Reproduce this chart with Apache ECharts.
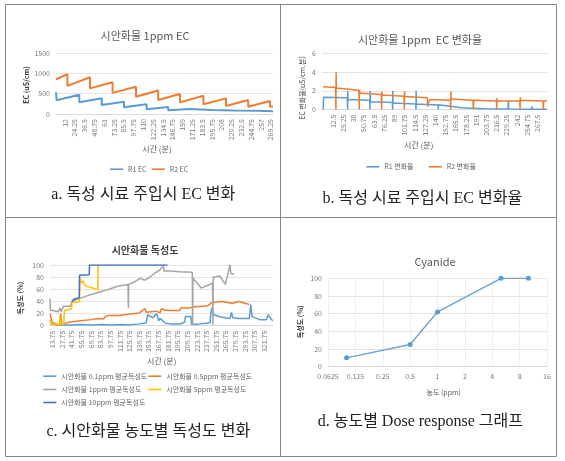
<!DOCTYPE html>
<html><head><meta charset="utf-8">
<script src="https://cdn.jsdelivr.net/npm/echarts@6/dist/echarts.min.js"></script>
<style>html,body{margin:0;padding:0;background:#fff}#c{width:565px;height:461px}</style>
</head><body><div id="c"></div>
<script>
const FONT = "'Noto Sans CJK KR', 'Noto Sans', sans-serif";
const SERIF = "'Liberation Serif', 'DejaVu Serif', 'Noto Sans CJK KR', serif";

// ---- Panel a: 시안화물 1ppm EC ----
const aTicks = [12, 24.25, 36.5, 48.75, 61, 73.25, 85.5, 97.75, 110, 122.25, 134.5, 146.75, 159, 171.25, 183.5, 195.75, 208, 220.25, 232.5, 244.75, 257, 269.25];
const aR1Time = [0.75, 1.5, 29.9, 29.9, 57.9, 57.9, 85.75, 85.75, 114, 114, 141, 141, 168.25, 168.25, 196, 196, 224, 224, 252, 252, 272];
const aR1EC   = [535, 340, 475, 287, 385, 221, 301, 164, 238, 115, 172, 91, 123, 74, 100, 68, 88, 62, 80, 58, 70];
const aR2Time = [0.75, 15, 15, 43.25, 43.25, 71.5, 71.5, 100.75, 100.75, 128.5, 128.5, 155.75, 155.75, 185, 185, 213.25, 213.25, 241, 241, 268.25, 268.25, 272];
const aR2EC   = [855, 978, 690, 905, 630, 780, 520, 670, 425, 580, 345, 490, 285, 450, 240, 385, 195, 345, 180, 320, 180, 185];

// ---- Panel b: 시안화물 1ppm EC 변화율 ----
const bTicks = [12.5, 25.25, 38, 50.75, 63.5, 76.25, 89, 101.75, 114.5, 127.25, 140, 152.75, 165.5, 178.25, 191, 203.75, 216.5, 229.25, 242, 254.75, 267.5];
const bR1Time = [0, 0.5, 30.1, 30.5, 30.7, 31, 58, 58.4, 58.6, 58.9, 86.4, 86.75, 86.95, 87.2, 115.5, 115.9, 116.1, 116.4, 143.4, 143.75, 144, 144.3, 172.7, 173, 173.3, 201.7, 202, 202.3, 230.8, 231.1, 231.3, 231.6, 260.2, 260.5, 260.7, 261, 279.5];
const bR1Rate = [0, 1.3, 1.25, 0, 2.0, 1.06, 0.98, 0, 2.0, 0.82, 0.75, 0, 2.0, 0.7, 0.6, 0, 2.0, 0.6, 0.48, 0, 0.5, 0.35, 0.2, 0, 0.15, 0.08, 0, 0.08, 0.05, 0, 0.95, 0.05, 0.03, 0, 0.35, 0.03, 0.02];
const bR2Time = [0, 15.5, 15.9, 16.1, 16.4, 44.6, 45, 45.3, 45.6, 72.6, 73, 73.3, 73.6, 100.9, 101.3, 101.6, 101.9, 130, 130.5, 131.5, 133, 158.8, 159.2, 159.5, 159.8, 187.1, 187.5, 187.8, 188.1, 216.3, 216.7, 217, 217.3, 245.5, 245.9, 246.2, 246.5, 274.6, 275, 275.5, 279.5];
const bR2Rate = [2.45, 2.35, 0, 4.0, 2.3, 2.05, 0, 2.1, 1.78, 1.62, 0, 1.9, 1.55, 1.42, 0, 1.95, 1.4, 1.25, 0.3, 0.8, 1.06, 1.0, 0, 1.95, 1.12, 1.0, 0, 0.5, 0.98, 0.92, 0, 1.2, 0.95, 0.92, 0, 1.3, 0.98, 0.92, 0, 0.9, 0.95];

// ---- Panel c: 시안화물 독성도 ----
const cTicks = [13.75, 27.75, 41.75, 55.75, 69.75, 83.75, 97.75, 111.75, 125.75, 139.75, 153.75, 167.75, 181.75, 195.75, 209.75, 223.75, 237.75, 251.75, 265.75, 279.75, 293.75, 307.75, 321.75];
const c01Time = [10, 12, 20, 24.5, 25, 26, 40, 55, 70, 85, 100, 115, 124, 125, 140, 150, 152, 153, 160, 165, 168, 170, 178, 185, 200, 206, 207, 215, 216, 228, 243, 244, 246, 248, 260, 272, 274, 276, 285, 300, 302, 304, 315, 325, 327, 334];
const c01Tox  = [3, 1, 1, 1, 8, 1, 1, 2, 1, 2, 1, 2, 1, 4, 3, 5, 18, 15, 13, 20, 8, 12, 4, 3, 3, 6, 15, 15, 2, 3, 5, 22, 30, 18, 14, 12, 22, 13, 12, 12, 35, 15, 10, 10, 18, 8];
const c05Time = [10, 13, 20, 24.5, 25.5, 27, 40, 55, 70, 80, 88, 90, 95, 110, 124, 125, 140, 148, 150, 165, 170, 172, 180, 199, 200, 213, 218, 220, 240, 245, 260, 275, 285, 300];
const c05Tox  = [20, 6, 2, 2, 20, 3, 6, 8, 10, 12, 11, 15, 17, 17, 19, 22, 21, 28, 22, 24, 21, 28, 25, 25, 29, 29, 31, 34, 33, 38, 40, 37, 40, 35];
const c1Time  = [10, 10.5, 22, 24.5, 26.5, 29.5, 40, 41.5, 53.5, 66, 75.5, 83, 92.5, 98, 108, 123.5, 124, 124.5, 133, 141, 148, 155, 162, 170, 175, 176, 185, 199, 217, 217.5, 218, 230, 246.5, 247, 247.5, 257, 265, 272, 273, 278];
const c1Tox   = [45, 26, 23, 29, 23, 32, 32, 40, 45, 50, 53, 56, 59, 61, 65, 68, 29, 68, 72, 78, 75, 80, 86, 92, 98, 90, 90, 89, 88, 1, 78, 62, 70, 1, 80, 82, 68, 100, 86, 85];
const c5Time  = [10, 12, 24, 24.5, 25.5, 30, 31, 41.5, 42, 53, 53.5, 56, 58, 61, 66, 72, 79.5, 80];
const c5Tox   = [10, 2, 2, 15, 3, 3, 25, 28, 38, 40, 78, 70, 74, 66, 64, 62, 59, 100];
const c10Time = [42, 45, 52.5, 53, 67, 67.5, 181];
const c10Tox  = [40, 44, 46, 83, 84, 100, 100];

// ---- Panel d: Cyanide dose response ----
const dConc = [0.1, 0.5, 1, 5, 10];
const dTox  = [10, 25, 62, 100, 100];

const zip = (a, b) => a.map((v, i) => [v, b[i]]);
const LBL = '#7a7a7a';
const GRID = '#e3e3e3';

function xTime(gi, min, max, ticks) {
  return {
    type: 'value', gridIndex: gi, min: min, max: max,
    axisLine: { show: true, lineStyle: { color: '#d9d9d9', width: 1 } },
    axisTick: { show: false }, splitLine: { show: false },
    axisLabel: { customValues: ticks, rotate: 90, fontSize: 7, color: LBL, margin: 5, fontFamily: FONT, formatter: v => String(v) }
  };
}
function yVal(gi, min, max, interval) {
  return {
    type: 'value', gridIndex: gi, min: min, max: max, interval: interval,
    axisLine: { show: false }, axisTick: { show: false },
    splitLine: { show: true, lineStyle: { color: GRID, width: 1 } },
    axisLabel: { fontSize: 7, color: LBL, margin: 6, fontFamily: FONT, formatter: v => String(v) }
  };
}
function line(name, xi, data, color, width) {
  return { name: name, type: 'line', xAxisIndex: xi, yAxisIndex: xi, data: data, showSymbol: false,
    lineStyle: { color: color, width: width }, itemStyle: { color: color }, animation: false };
}
function txt(text, x, y, size, color, opts) {
  opts = opts || {};
  return { type: 'text', x: x, y: y, rotation: opts.rot || 0, silent: true,
    style: { text: text, fill: color, font: (opts.bold ? 'bold ' : '') + size + 'px ' + (opts.family || FONT),
      align: 'center', verticalAlign: 'middle', textAlign: 'center', textVerticalAlign: 'middle' } };
}
function leg(name, left, y) {
  return { data: [name], left: left, top: y - 5, padding: 0, icon: 'rect', itemWidth: 13, itemHeight: 1.6,
    itemGap: 4, textStyle: { fontSize: 7, color: '#666', fontFamily: FONT }, selectedMode: false };
}
function hl(x1, y1, x2, y2) {
  return { type: 'line', silent: true, shape: { x1: x1, y1: y1, x2: x2, y2: y2 }, style: { stroke: '#858585', lineWidth: 1 } };
}

const C_BLUE = '#5B9BD5', C_ORANGE = '#ED7D31', C_GRAY = '#A5A5A5', C_YEL = '#FFC000', C_NAVY = '#4472C4';

const option = {
  backgroundColor: '#fff',
  animation: false,
  grid: [
    { left: 56, top: 53, width: 217, height: 61 },
    { left: 322, top: 53.5, width: 225, height: 56 },
    { left: 50, top: 265, width: 222.7, height: 60.7 },
    { left: 328, top: 278.3, width: 219, height: 88.4 }
  ],
  xAxis: [
    xTime(0, 0.75, 272, aTicks),
    xTime(1, -1.5, 279.5, bTicks),
    xTime(2, 10, 334, cTicks),
    { type: 'log', logBase: 2, gridIndex: 3, min: 0.0625, max: 16,
      axisLine: { show: true, lineStyle: { color: '#d9d9d9' } }, axisTick: { show: false },
      splitLine: { show: true, lineStyle: { color: '#eeeeee' } },
      axisLabel: { fontSize: 7, color: LBL, margin: 6, fontFamily: FONT } }
  ],
  yAxis: [
    yVal(0, 0, 1500, 500),
    yVal(1, 0, 6, 2),
    yVal(2, 0, 100, 20),
    yVal(3, 0, 100, 20)
  ],
  legend: [
    leg('R1 EC', 110, 170.7),
    leg('R2 EC', 151.7, 170.7),
    leg('R1 변화율', 366.3, 168.3),
    leg('R2 변화율', 428.7, 168.3),
    leg('시안화물 0.1ppm 평균독성도', 43.3, 377.7),
    leg('시안화물 0.5ppm 평균독성도', 148.3, 377.7),
    leg('시안화물 1ppm 평균독성도', 43.3, 391),
    leg('시안화물 5ppm 평균독성도', 148.3, 391),
    leg('시안화물 10ppm 평균독성도', 43.3, 404)
  ],
  series: [
    line('R1 EC', 0, zip(aR1Time, aR1EC), C_BLUE, 2),
    line('R2 EC', 0, zip(aR2Time, aR2EC), C_ORANGE, 2),
    line('R1 변화율', 1, zip(bR1Time, bR1Rate), C_BLUE, 1.5),
    line('R2 변화율', 1, zip(bR2Time, bR2Rate), C_ORANGE, 1.5),
    line('시안화물 0.1ppm 평균독성도', 2, zip(c01Time, c01Tox), C_BLUE, 1.5),
    line('시안화물 0.5ppm 평균독성도', 2, zip(c05Time, c05Tox), C_ORANGE, 1.5),
    line('시안화물 1ppm 평균독성도', 2, zip(c1Time, c1Tox), C_GRAY, 1.5),
    line('시안화물 5ppm 평균독성도', 2, zip(c5Time, c5Tox), C_YEL, 1.5),
    line('시안화물 10ppm 평균독성도', 2, zip(c10Time, c10Tox), C_NAVY, 1.5),
    { name: 'Cyanide', type: 'line', xAxisIndex: 3, yAxisIndex: 3, data: zip(dConc, dTox),
      symbol: 'circle', symbolSize: 5, lineStyle: { color: '#6FA3D0', width: 1.5 }, itemStyle: { color: '#5B9BD5' }, animation: false }
  ],
  graphic: [
    hl(5.5, 4.5, 556.5, 4.5), hl(5.5, 217.5, 556.5, 217.5), hl(5.5, 456.5, 556.5, 456.5),
    hl(5.5, 4.5, 5.5, 456.5), hl(280.5, 4.5, 280.5, 456.5), hl(556.5, 4.5, 556.5, 456.5),
    // titles
    txt('시안화물 1ppm EC', 145, 36, 11, '#595959'),
    txt('시안화물 1ppm  EC 변화율', 420, 39.5, 11, '#595959'),
    txt('시안화물 독성도', 145, 250.7, 10, '#404040', { bold: true }),
    txt('Cyanide', 435, 262, 11, '#595959'),
    // axis names
    txt('EC (uS/cm)', 26, 85, 7, '#404040', { rot: Math.PI / 2, bold: true }),
    txt('시간 (분)', 157, 149.3, 8, '#595959'),
    txt('EC 변화율(uS/cm.분)', 302.7, 88, 7, '#404040', { rot: Math.PI / 2 }),
    txt('시간 (분)', 418.7, 145, 8, '#595959'),
    txt('독성도 (%)', 20.7, 298, 7, '#404040', { rot: Math.PI / 2, bold: true }),
    txt('시간 (분)', 161.7, 361, 8, '#595959'),
    txt('독성도 (%)', 300, 321.7, 7, '#404040', { rot: Math.PI / 2, bold: true }),
    txt('농도 (ppm)', 443.7, 392.3, 7, '#595959'),
    // captions
    txt('a. 독성 시료 주입시 EC 변화', 143.3, 195, 16, '#222', { family: SERIF }),
    txt('b. 독성 시료 주입시 EC 변화율', 422.3, 198.3, 16, '#222', { family: SERIF }),
    txt('c. 시안화물 농도별 독성도 변화', 148.3, 431.7, 16, '#222', { family: SERIF }),
    txt('d. 농도별 Dose response 그래프', 420.3, 421.7, 16, '#222', { family: SERIF })
  ]
};

const chart = echarts.init(document.getElementById('c'), null, { renderer: 'canvas' });
chart.setOption(option);
</script>
</body></html>
